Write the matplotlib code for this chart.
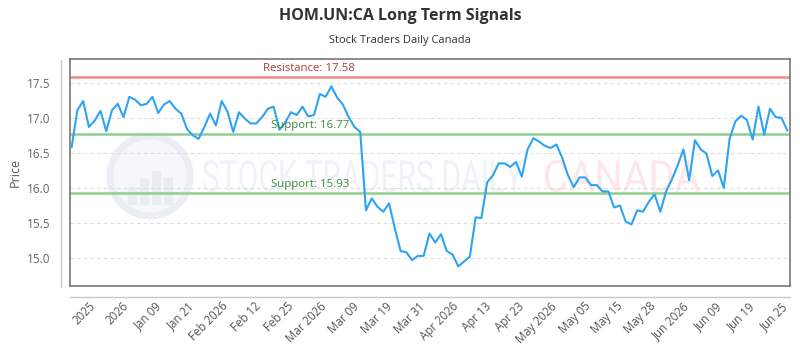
import numpy as np
import matplotlib.pyplot as plt
from matplotlib.lines import Line2D
from matplotlib.patches import Ellipse, PathPatch, Rectangle
from matplotlib.textpath import TextPath
from matplotlib.font_manager import FontProperties
from matplotlib.transforms import Affine2D, IdentityTransform

plt.rcParams['font.family'] = ['Open Sans', 'DejaVu Sans']

# closing prices, one per trading day
prices = [
    16.58, 17.11, 17.24, 16.87, 16.96, 17.10, 16.81, 17.11, 17.20, 17.01,
    17.30, 17.26, 17.18, 17.20, 17.30, 17.07, 17.19, 17.24, 17.13, 17.06,
    16.84, 16.75, 16.70, 16.87, 17.06, 16.89, 17.24, 17.09, 16.80, 17.08,
    16.99, 16.92, 16.92, 17.01, 17.13, 17.16, 16.83, 16.93, 17.08, 17.04,
    17.16, 17.02, 17.04, 17.34, 17.30, 17.45, 17.29, 17.19, 17.01, 16.87,
    16.80, 15.68, 15.85, 15.73, 15.66, 15.78, 15.42, 15.10, 15.08, 14.97,
    15.03, 15.03, 15.35, 15.22, 15.34, 15.10, 15.05, 14.88, 14.95, 15.02,
    15.58, 15.57, 16.08, 16.18, 16.35, 16.35, 16.30, 16.37, 16.16, 16.55,
    16.71, 16.66, 16.60, 16.57, 16.62, 16.43, 16.18, 16.01, 16.15, 16.15,
    16.04, 16.04, 15.95, 15.95, 15.72, 15.75, 15.52, 15.48, 15.68, 15.66,
    15.80, 15.91, 15.66, 15.95, 16.12, 16.32, 16.55, 16.11, 16.68, 16.55,
    16.49, 16.17, 16.25, 16.00, 16.70, 16.95, 17.03, 16.97, 16.69, 17.16,
    16.76, 17.13, 17.01, 17.00, 16.82,
]
tick_labels = ['2025', '2026', 'Jan 09', 'Jan 21', 'Feb 2026', 'Feb 12', 'Feb 25',
               'Mar 2026', 'Mar 09', 'Mar 19', 'Mar 31', 'Apr 2026', 'Apr 13',
               'Apr 23', 'May 2026', 'May 05', 'May 15', 'May 28', 'Jun 2026',
               'Jun 09', 'Jun 19', 'Jun 25']
resistance = 17.58
supports = [16.77, 15.93]

W, H = 800, 350
fig = plt.figure(figsize=(8, 3.5), dpi=100)
ax = fig.add_axes([70 / W, 1 - 286 / H, 720 / W, 227 / H])

x = np.arange(len(prices))
ax.set_xlim(-0.28, len(prices) - 1 + 0.47)
ax.set_ylim(14.60, 17.84)


# --- faint watermark (pixel coords, origin bottom-left) ---
def stamp(text, x0, x1, ybot, cap, color):
    tp = TextPath((0, 0), text, size=100, prop=FontProperties(family='Roboto'))
    ext = tp.get_extents()
    sx = (x1 - x0) / ext.width
    sy = cap / ext.height
    tr = Affine2D().translate(-ext.x0, -ext.y0).scale(sx, sy).translate(x0, H - ybot)
    fig.add_artist(PathPatch(tp, transform=tr + IdentityTransform(),
                             facecolor=color, edgecolor='none', zorder=0))


stamp('STOCK TRADERS DAILY', 203, 523, 192, 32, '#eff3f7')
stamp('CANADA', 545, 700, 192, 32, '#fde7e9')
fig.add_artist(Ellipse((150 / W, 1 - 176 / H), 80 / W, 80 / H, transform=fig.transFigure,
                       facecolor='#f5f8fa', edgecolor='#ebeff4', lw=5, zorder=0))
for bx, bh in [(128, 18), (140, 26), (152, 34), (164, 28)]:
    fig.add_artist(Rectangle((bx / W, 1 - 205 / H), 9 / W, bh / H,
                             transform=fig.transFigure, facecolor='#eaeef3',
                             edgecolor='none', zorder=0))

ax.patch.set_alpha(0)
ax.set_yticks([15.0, 15.5, 16.0, 16.5, 17.0, 17.5])
ax.set_yticklabels(['15.0', '15.5', '16.0', '16.5', '17.0', '17.5'])
ax.grid(axis='y', color='#dddddd', ls=(0, (3, 3)), lw=0.8)
ax.set_axisbelow(True)

ax.axhline(resistance, color='#ee8a8a', lw=1.8, zorder=2)
for s in supports:
    ax.axhline(s, color='#8fcf8f', lw=1.8, zorder=2)
ax.plot(x, prices, color='#2ea3f2', lw=1.5, zorder=3)

ax.text(33.2, resistance + 0.04, f'Resistance: {resistance}', color='#b03a3a',
        fontsize=8.2, va='bottom')
for s in supports:
    ax.text(34.6, s + 0.04, f'Support: {s}', color='#3a8a3a', fontsize=8.2, va='bottom')

ticks = np.linspace(3, len(prices) - 2, len(tick_labels))
ax.set_xticks(ticks)
ax.set_xticklabels(tick_labels, rotation=45, ha='right', rotation_mode='anchor',
                   fontsize=8.3, color='#555555')
ax.tick_params(axis='x', length=0, pad=10)
ax.tick_params(axis='y', length=0, pad=14, labelsize=8.5, labelcolor='#666666')

for sp in ax.spines.values():
    sp.set_color('#777777')
    sp.set_linewidth(1.2)

# outer axis lines
fig.add_artist(Line2D([60.5 / W, 60.5 / W], [1 - 60 / H, 1 - 287 / H],
                      color='#c8c8c8', lw=1))
fig.add_artist(Line2D([70 / W, 790 / W], [1 - 296.5 / H, 1 - 296.5 / H],
                      color='#c8c8c8', lw=1))

ax.set_ylabel('Price', fontsize=9, color='#555555')
ax.yaxis.set_label_coords(-48 / 720, 0.5)

fig.text(0.5, 1 - 16 / H, 'HOM.UN:CA Long Term Signals', ha='center', va='center',
         fontsize=11.5, fontweight='bold', color='#333333')
fig.text(0.5, 1 - 40 / H, 'Stock Traders Daily Canada', ha='center', va='center',
         fontsize=8, color='#333333')

fig.savefig('out.png', dpi=100)
